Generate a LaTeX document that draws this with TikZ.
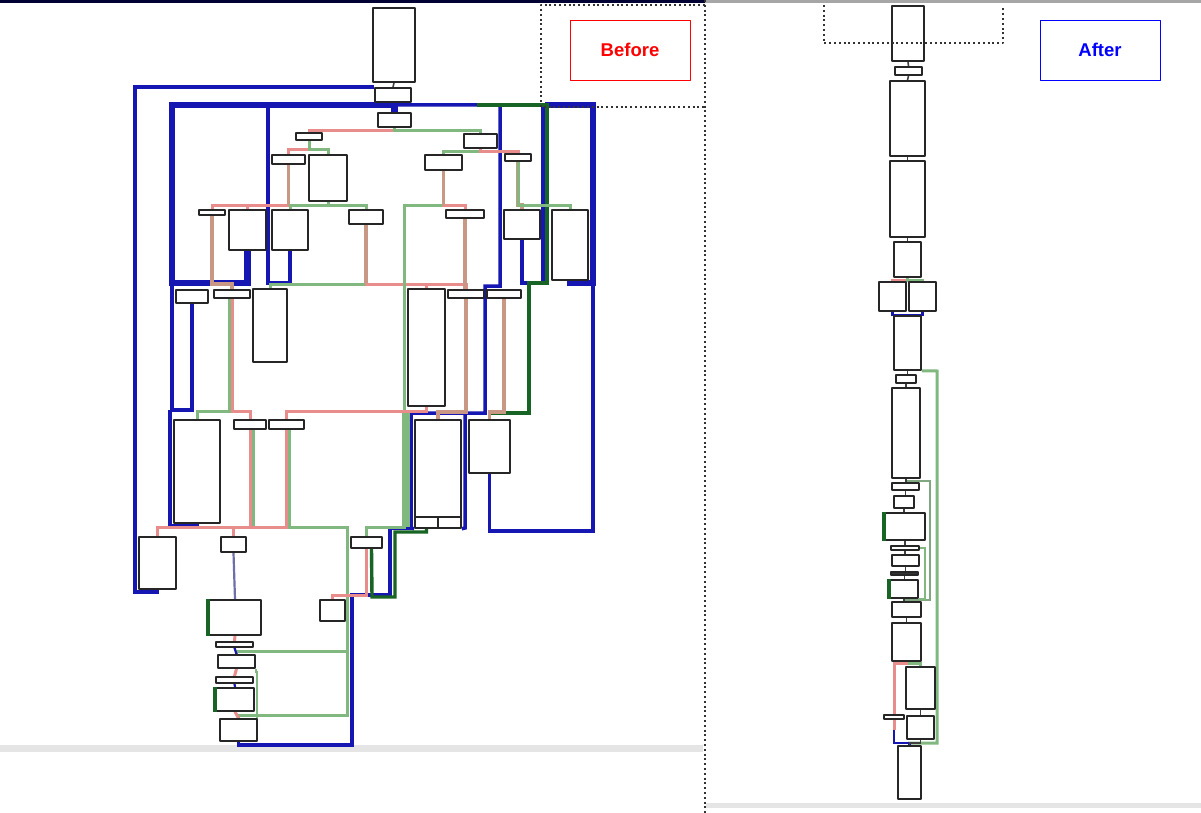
\documentclass[tikz,border=0pt]{standalone}
\usepackage{fontspec}
\setmainfont{Liberation Sans}
\usetikzlibrary{fit,calc,backgrounds}
\definecolor{cfgblue}{RGB}{22,22,178}
\definecolor{cfgred}{RGB}{232,140,140}
\definecolor{cfggreen}{RGB}{128,184,128}
\definecolor{cfgdark}{RGB}{24,100,36}
\definecolor{cfgbrown}{RGB}{200,152,132}
\definecolor{cfgslate}{RGB}{110,110,170}
\begin{document}
\begin{tikzpicture}[x=1pt, y=-1pt, line join=round,
  blk/.style={draw=black!85, line width=1.6pt, fill=white, inner sep=0pt},
  lk/.style={draw=black!75, line width=1.6pt},
  bl/.style={draw=cfgblue, line width=3.5pt},
  blt/.style={draw=cfgblue, line width=6.5pt},
  rd/.style={draw=cfgred, line width=3pt},
  gn/.style={draw=cfggreen, line width=3pt},
  br/.style={draw=cfgbrown, line width=3.8pt},
  dg/.style={draw=cfgdark, line width=3.4pt},
  dots/.style={draw=black!80, line width=2pt, line cap=butt, dash pattern=on 2pt off 2.8pt},
  tag/.style={draw, line width=0.9pt, minimum width=120pt, minimum height=60pt, font=\fontsize{18.5}{20}\selectfont\bfseries}]
\useasboundingbox (0,0) rectangle (1201,813);

% before: blocks
\node[blk, fit={(373,8) (415,82)}] (b1) {};
\node[blk, fit={(375,88) (411,102)}] (b2) {};
\node[blk, fit={(378,113) (411,127)}] (b3) {};
\node[blk, fit={(296,133) (322,140)}] (b4) {};
\node[blk, fit={(464,134) (497,148)}] (b5) {};
\node[blk, fit={(272,155) (305,164)}] (b6) {};
\node[blk, fit={(309,155) (347,201)}] (b7) {};
\node[blk, fit={(425,155) (462,170)}] (b8) {};
\node[blk, fit={(505,154) (531,161)}] (b9) {};
\node[blk, fit={(199,210) (225,215)}] (b10) {};
\node[blk, fit={(229,210) (266,250)}] (b11) {};
\node[blk, fit={(272,210) (308,250)}] (b12) {};
\node[blk, fit={(349,210) (383,224)}] (b13) {};
\node[blk, fit={(446,210) (484,218)}] (b14) {};
\node[blk, fit={(504,210) (540,239)}] (b15) {};
\node[blk, fit={(552,210) (588,280)}] (b16) {};
\node[blk, fit={(176,290) (208,303)}] (b17) {};
\node[blk, fit={(214,290) (250,298)}] (b18) {};
\node[blk, fit={(253,289) (287,362)}] (b19) {};
\node[blk, fit={(408,289) (445,406)}] (b20) {};
\node[blk, fit={(448,290) (484,298)}] (b21) {};
\node[blk, fit={(487,290) (521,298)}] (b22) {};
\node[blk, fit={(174,420) (220,523)}] (b23) {};
\node[blk, fit={(234,420) (266,429)}] (b24) {};
\node[blk, fit={(269,420) (304,429)}] (b25) {};
\node[blk, fit={(415,420) (461,517)}] (b26) {};
\node[blk, fit={(415,517) (438,528)}] (b26a) {};
\node[blk, fit={(438,517) (461,528)}] (b26b) {};
\node[blk, fit={(469,420) (510,473)}] (b27) {};
\node[blk, fit={(139,537) (176,589)}] (b28) {};
\node[blk, fit={(221,537) (246,552)}] (b29) {};
\node[blk, fit={(351,537) (382,548)}] (b30) {};
\node[blk, fit={(320,600) (345,621)}] (b31) {};
\node[blk, fit={(209,600) (261,635)}] (b32) {};
\node[blk, fit={(216,642) (253,647)}] (b33) {};
\node[blk, fit={(218,655) (255,668)}] (b34) {};
\node[blk, fit={(216,677) (253,683)}] (b35) {};
\node[blk, fit={(216,688) (254,711)}] (b36) {};
\node[blk, fit={(220,719) (257,741)}] (b37) {};

% after: blocks
\node[blk, fit={(892,6) (924,61)}] (r1) {};
\node[blk, fit={(895,67) (922,75)}] (r2) {};
\node[blk, fit={(890,81) (925,156)}] (r3) {};
\node[blk, fit={(890,161) (925,237)}] (r4) {};
\node[blk, fit={(894,242) (921,277)}] (r5) {};
\node[blk, fit={(879,282) (906,311)}] (r6) {};
\node[blk, fit={(909,282) (936,311)}] (r7) {};
\node[blk, fit={(894,316) (921,370)}] (r8) {};
\node[blk, fit={(896,375) (916,383)}] (r9) {};
\node[blk, fit={(892,388) (920,478)}] (r10) {};
\node[blk, fit={(892,483) (919,490)}] (r11) {};
\node[blk, fit={(894,496) (914,508)}] (r12) {};
\node[blk, fit={(885,513) (925,540)}] (r13) {};
\node[blk, fit={(891,546) (919,550)}] (r14) {};
\node[blk, fit={(892,555) (919,566)}] (r15) {};
\node[blk, fill=black!80, fit={(891,572) (918,575)}] (r16) {};
\node[blk, fit={(890,580) (918,598)}] (r17) {};
\node[blk, fit={(892,602) (921,617)}] (r18) {};
\node[blk, fit={(892,623) (921,661)}] (r19) {};
\node[blk, fit={(906,667) (935,709)}] (r20) {};
\node[blk, fit={(884,715) (904,719)}] (r21) {};
\node[blk, fit={(907,716) (934,739)}] (r22) {};
\node[blk, fit={(898,746) (921,799)}] (r23) {};
\coordinate (rj) at (894,730);

\node[tag, draw=red, text=red] (before) at (630,50) {Before};
\node[tag, draw=blue, text=blue] (after) at (1100,50) {After};

\begin{scope}[on background layer]
  % window frame
  \fill[white] (0,0) rectangle (1201,813);
  \fill[black!80!blue] (0,0) rectangle (705,3);
  \fill[black!35] (705,0) rectangle (1201,3);
  \fill[black!10] (0,745) rectangle (703,752);
  \fill[black!10] (706,803) rectangle (1201,808);

  % before: back edges
  \draw[bl] (b28.south) |- (135,592) |- (b2.north west);
  \draw[blt] (b11.south) |- (172,283) -- (172,105) -| (b3.north);
  \draw[bl] (b17.south) |- (172,410) -- (172,283);
  \draw[bl] (b23.south) |- (170,526) -- (170,410);
  \draw[bl] (b12.south) |- (268,283) -- (268,105);
  \draw[blt] (b16.south) |- (593,283) -- (593,105) -- (545,105);
  \draw[bl] (b27.south) |- (593,531) -- (593,283);
  \draw[bl] (b15.south) |- (543,283) -- (543,105);
  \draw[bl] (b26a.south west) -- (411,528) -- (411,413) -- (485,413) -- (485,286) -- (500,286) -- (500,105) -| (b3.north);
  \draw[bl] (b26b.south east) -- (465,528) -- (465,413);
  \draw[bl] (b37.south) |- (352,745) -- (352,595) -- (390,595) -- (390,528) -- (411,528);
  \draw[dg] (b27.north) |- (529,413) -- (529,283) -- (547,283) -- (547,105) -- (477,105);
  \draw[dg] (b26a.south) |- (395,532) -- (395,597) -- (372,597) -- ($(b30.south)+(5,0)$);

  % before: forward edges
  \draw[lk] (b1.south) -- (b2.north);
  \draw[rd] (b3.south) -- (394.5,131) -| (b4.north);
  \draw[gn] (b3.south) -- (394.5,131) -| (b5.north);
  \draw[rd] (b4.south) -- (309,150) -| (b6.north);
  \draw[gn] (b4.south) -- (309,150) -| (b7.north);
  \draw[gn] (b5.south) -- (480.5,152) -| (b8.north);
  \draw[rd] (b5.south) -- (480.5,152) -| (b9.north);
  \draw[rd] (b6.south) -- (288.5,205) -| (b10.north);
  \draw[rd] (b6.south) -- (288.5,205) -| (b11.north);
  \draw[br] (b6.south) -- ++(0,41);
  \draw[gn] (b7.south) -- (328,205) -| (b12.north);
  \draw[gn] (b7.south) -- (328,205) -| (b13.north);
  \draw[br] (b10.south) -- (212,284) -| (b18.north);
  \draw[gn] (b13.south) -- (366,284) -| (b19.north);
  \draw[rd] (b13.south) -- (366,284) -| (b20.north);
  \draw[rd] (b13.south) -- (366,284) -| (b21.north);
  \draw[br] (b13.south) -- ++(0,58);
  \draw[gn] (b8.south) -- (443.5,205) -- (404,205) -- (404,527) -| (b30.north);
  \draw[gn, line width=7.5pt] (406,412) -- (406,527);
  \draw[rd] (b8.south) -- (443.5,205) -| (b14.north);
  \draw[br] (b8.south) -- ++(0,35);
  \draw[br] (b9.south) -- (518,205) -| (b15.north);
  \draw[gn] (b9.south) -- (518,205) -| (b16.north);
  \draw[br] (b14.south) -- (b14.south |- b21.north);
  \draw[br] (b21.south) -- (466,412) -| (b26.north);
  \draw[br] (b22.south) -- (504,412) -| (b27.north);
  \draw[rd] (b20.south) -- (426.5,411) -| (b25.north);
  \draw[rd] (b18.south) -- (232,411) -| (b24.north);
  \draw[gn] ($(b18.south)+(-3,0)$) -- (229,411) -| (b23.north);
  \draw[rd] (b24.south) -- (250,527) -| (b28.north);
  \draw[gn] ($(b24.south)+(3,0)$) -- (253,527);
  \draw[rd] (b25.south) -- (286.5,527) -| (b29.north);
  \draw[gn] ($(b25.south)+(3,0)$) |- (347,527) -- (347,715) -| (b37.north);
  \draw[gn] ($(b25.south)+(3,0)$) |- (347,527) -- (347,651) -| (b34.north);
  \draw[draw=cfgslate, line width=2.2pt] (b29.south) -- (b32.north);
  \draw[rd] (b30.south) -- ++(0,47) -| (b31.north);
  \draw[rd] (b32.south) -- (b33.north);
  \draw[bl, line width=2.2pt] (b33.south) -- (b34.north);
  \draw[rd] (b34.south) -- (b35.north);
  \draw[bl, line width=2.2pt] (b35.south) -- (b36.north);
  \draw[rd] (b36.south) -- (b37.north);
  \draw[gn, line width=2.2pt] (b34.south east) |- (257,672) |- (b37.north east);

  % after: edges
  \draw[lk] (r1.south) -- (r2.north);
  \draw[lk] (r2.south) -- (r3.north);
  \draw[lk] (r3.south) -- (r4.north);
  \draw[lk] (r4.south) -- (r5.north);
  \draw[rd] (r5.south) -- ++(0,3) -| (r6.north);
  \draw[gn] (r5.south) -- ++(0,3) -| (r7.north);
  \draw[bl, line width=2.2pt] (r6.south) -- ++(0,3) -| (r8.north);
  \draw[bl, line width=2.2pt] (r7.south) -- ++(0,3) -| (r8.north);
  \draw[lk] (r8.south) -- (r8.south |- r9.north);
  \draw[gn] (r8.south east) -- (937,371) -- (937,743) -| (r23.north);
  \draw[lk] (r9.south) -- (r9.south |- r10.north);
  \draw[gn, draw=cfggreen!70!gray, line width=2.2pt] (r10.south) -- ++(0,2) -| (930,600) -| (r18.north);
  \draw[lk] (r10.south) -- (r10.south |- r11.north);
  \draw[lk] (r11.south) -- (r11.south |- r12.north);
  \draw[lk] (r12.south) -- (r12.south |- r13.north);
  \draw[lk] (r13.south) -- (r13.south |- r14.north);
  \draw[lk] (r14.south) -- (r14.south |- r15.north);
  \draw[lk] (r15.south) -- (r15.south |- r16.north);
  \draw[lk] (r16.south) -- (r16.south |- r17.north);
  \draw[lk] (r17.south) -- (r17.south |- r18.north);
  \draw[lk] (r18.south) -- (r18.south |- r19.north);
  \draw[gn, line width=2pt] (r14.east) -| ($(r17.south east)+(6,0)$) -- (r17.south east);
  \draw[gn] (r19.south) -- ++(0,2) -| (r20.north);
  \draw[rd] (r19.south) -- ++(0,2) -| (rj);
  \draw[bl, line width=2.2pt] (rj) -- (894,743) -| (r23.north);
  \draw[lk] (r20.south) -- (r22.north);
  \draw[lk] (r22.south) -- ++(0,3) -| (r23.north);
\end{scope}

% thick borders of loop heads
\draw[dg, line width=4.5pt] (b32.north west) -- (b32.south west);
\draw[dg, line width=4pt] (b36.north west) -- (b36.south west);
\draw[dg, line width=4pt] (r13.north west) -- (r13.south west);
\draw[dg, line width=4pt] (r17.north west) -- (r17.south west);

% dotted panes
\draw[dots] (705,0) -- (705,813);
\draw[dots] (705,5) -- (541,5) -- (541,107) -- (705,107);
\draw[dots] (824,5) -- (824,43) -- (1003,43) -- (1003,8);
\end{tikzpicture}
\end{document}
